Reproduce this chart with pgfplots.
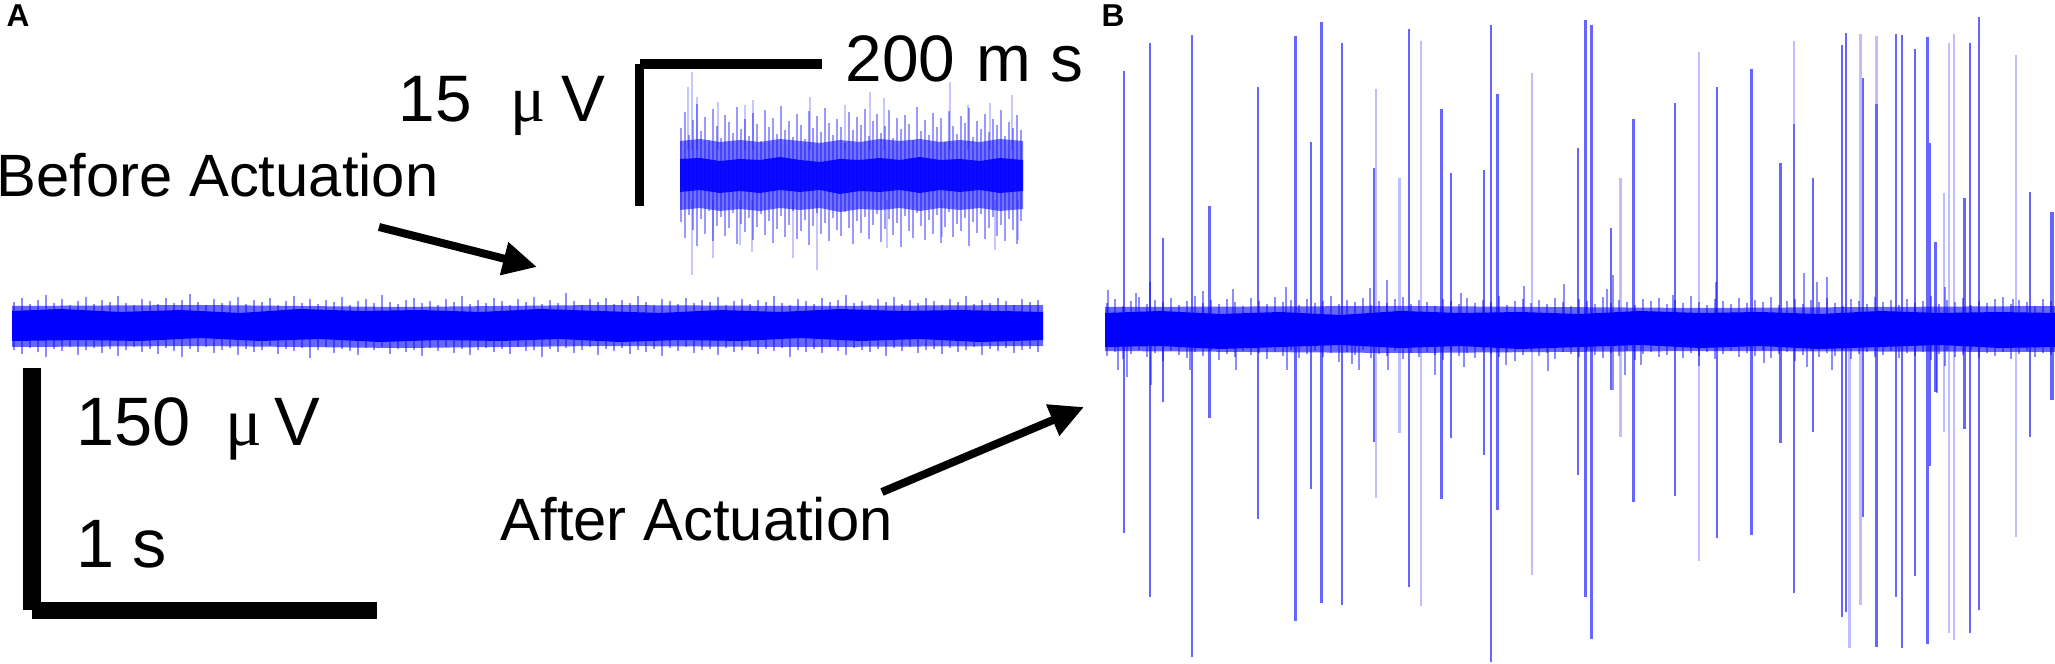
\documentclass[border=0pt]{standalone}
\usepackage{fontspec}
\setmainfont{Liberation Sans}
\newfontfamily\mufont{Liberation Serif}
\usepackage{pgfplots}
\pgfplotsset{compat=1.18}
\usetikzlibrary{arrows.meta}
\definecolor{trace}{RGB}{0,0,255}

% one unit = one pixel of the 2055x664 figure (0.1 mm)
\begin{document}
\begin{tikzpicture}
\begin{axis}[
  scale only axis, width=205.5mm, height=66.4mm,
  xmin=0, xmax=2055, ymin=0, ymax=664, y dir=reverse,
  hide axis, clip=false, unbounded coords=jump,
]
% ---------------- panel A: long trace before actuation
\addplot[draw=none, fill=trace, fill opacity=0.6] coordinates {
(12,306)(200,305)(400,307)(600,305)(800,306)(1043,305)
(1043,346)(800,347)(600,346)(400,348)(200,346)(12,347)};
\addplot[trace, opacity=0.45, line width=0.2mm] coordinates {
(14,302)(14,350)(nan,nan)(22,298)(22,354)(nan,nan)(30,304)(30,348)(nan,nan)(38,300)(38,352)(nan,nan)
(46,295)(46,357)(nan,nan)(54,303)(54,349)(nan,nan)(62,299)(62,351)(nan,nan)(70,305)(70,347)(nan,nan)
(78,301)(78,355)(nan,nan)(86,297)(86,350)(nan,nan)(94,304)(94,348)(nan,nan)(102,300)(102,353)(nan,nan)
(110,302)(110,349)(nan,nan)(118,296)(118,356)(nan,nan)(126,303)(126,350)(nan,nan)(134,305)(134,347)(nan,nan)
(142,299)(142,352)(nan,nan)(150,301)(150,349)(nan,nan)(158,304)(158,354)(nan,nan)(166,298)(166,348)(nan,nan)
(174,303)(174,351)(nan,nan)(182,300)(182,357)(nan,nan)(190,294)(190,349)(nan,nan)(198,302)(198,352)(nan,nan)
(206,305)(206,347)(nan,nan)(214,299)(214,353)(nan,nan)(222,303)(222,350)(nan,nan)(230,301)(230,348)(nan,nan)
(238,297)(238,355)(nan,nan)(246,304)(246,349)(nan,nan)(254,300)(254,352)(nan,nan)(262,302)(262,350)(nan,nan)
(270,298)(270,346)(nan,nan)(278,305)(278,354)(nan,nan)(286,301)(286,349)(nan,nan)(294,296)(294,351)(nan,nan)
(302,303)(302,348)(nan,nan)(310,299)(310,358)(nan,nan)(318,304)(318,350)(nan,nan)(326,300)(326,347)(nan,nan)
(334,302)(334,353)(nan,nan)(342,297)(342,349)(nan,nan)(350,305)(350,351)(nan,nan)(358,301)(358,355)(nan,nan)
(366,299)(366,348)(nan,nan)(374,303)(374,350)(nan,nan)(382,295)(382,347)(nan,nan)(390,302)(390,354)(nan,nan)
(398,304)(398,349)(nan,nan)(406,300)(406,352)(nan,nan)(414,298)(414,350)(nan,nan)(422,303)(422,356)(nan,nan)
(430,301)(430,348)(nan,nan)(438,305)(438,351)(nan,nan)(446,299)(446,347)(nan,nan)(454,302)(454,353)(nan,nan)
(462,296)(462,349)(nan,nan)(470,304)(470,355)(nan,nan)(478,300)(478,350)(nan,nan)(486,303)(486,348)(nan,nan)
(494,298)(494,352)(nan,nan)(502,301)(502,349)(nan,nan)(510,305)(510,354)(nan,nan)(518,299)(518,347)(nan,nan)
(526,302)(526,351)(nan,nan)(534,297)(534,350)(nan,nan)(542,304)(542,357)(nan,nan)(550,300)(550,349)(nan,nan)
(558,303)(558,352)(nan,nan)(566,293)(566,348)(nan,nan)(574,301)(574,353)(nan,nan)(582,305)(582,350)(nan,nan)
(590,299)(590,347)(nan,nan)(598,302)(598,355)(nan,nan)(606,298)(606,349)(nan,nan)(614,304)(614,351)(nan,nan)
(622,300)(622,348)(nan,nan)(630,303)(630,354)(nan,nan)(638,296)(638,350)(nan,nan)(646,302)(646,352)(nan,nan)
(654,305)(654,349)(nan,nan)(662,299)(662,356)(nan,nan)(670,301)(670,348)(nan,nan)(678,304)(678,351)(nan,nan)
(686,298)(686,347)(nan,nan)(694,303)(694,353)(nan,nan)(702,300)(702,350)(nan,nan)(710,302)(710,349)(nan,nan)
(718,297)(718,355)(nan,nan)(726,305)(726,348)(nan,nan)(734,301)(734,352)(nan,nan)(742,299)(742,350)(nan,nan)
(750,304)(750,347)(nan,nan)(758,300)(758,354)(nan,nan)(766,302)(766,349)(nan,nan)(774,296)(774,351)(nan,nan)
(782,303)(782,348)(nan,nan)(790,305)(790,357)(nan,nan)(798,299)(798,350)(nan,nan)(806,301)(806,352)(nan,nan)
(814,304)(814,349)(nan,nan)(822,298)(822,353)(nan,nan)(830,302)(830,347)(nan,nan)(838,300)(838,351)(nan,nan)
(846,295)(846,355)(nan,nan)(854,303)(854,348)(nan,nan)(862,301)(862,350)(nan,nan)(870,305)(870,352)(nan,nan)
(878,299)(878,349)(nan,nan)(886,302)(886,356)(nan,nan)(894,297)(894,348)(nan,nan)(902,304)(902,351)(nan,nan)
(910,300)(910,347)(nan,nan)(918,303)(918,353)(nan,nan)(926,298)(926,350)(nan,nan)(934,301)(934,349)(nan,nan)
(942,305)(942,354)(nan,nan)(950,299)(950,348)(nan,nan)(958,302)(958,352)(nan,nan)(966,296)(966,350)(nan,nan)
(974,304)(974,347)(nan,nan)(982,300)(982,355)(nan,nan)(990,303)(990,349)(nan,nan)(998,298)(998,351)(nan,nan)
(1006,301)(1006,348)(nan,nan)(1014,305)(1014,353)(nan,nan)(1022,299)(1022,350)(nan,nan)(1030,302)(1030,349)(nan,nan)
(1038,300)(1038,352)};
\addplot[draw=none, fill=trace] coordinates {
(12,311)(60,309)(120,312)(180,310)(240,313)(300,309)(360,311)(420,310)(480,312)(540,309)
(600,311)(660,313)(720,310)(780,312)(840,309)(900,311)(960,310)(1043,312)
(1043,340)(980,342)(920,339)(860,341)(800,338)(740,341)(680,340)(620,342)(560,339)(500,341)
(440,340)(380,342)(320,339)(260,341)(200,338)(140,341)(80,340)(12,341)};

% ---------------- panel A: inset (200 ms window)
\addplot[trace, opacity=0.22, line width=0.2mm] coordinates {
(692,150)(692,72)(nan,nan)(688,150)(688,87)(nan,nan)(697,150)(697,97)(nan,nan)
(718,150)(718,102)(nan,nan)(745,150)(745,105)(nan,nan)(753,150)(753,100)(nan,nan)
(810,150)(810,97)(nan,nan)(845,150)(845,105)(nan,nan)(870,150)(870,92)(nan,nan)
(884,150)(884,98)(nan,nan)(950,150)(950,82)(nan,nan)(968,150)(968,105)(nan,nan)
(990,150)(990,103)(nan,nan)(1012,150)(1012,95)(nan,nan)
(692,200)(692,275)(nan,nan)(713,200)(713,258)(nan,nan)(740,200)(740,245)(nan,nan)
(752,200)(752,252)(nan,nan)(793,200)(793,258)(nan,nan)(817,200)(817,270)(nan,nan)
(887,200)(887,248)(nan,nan)(942,200)(942,237)(nan,nan)(995,200)(995,250)(nan,nan)
(1018,200)(1018,240)};
\addplot[trace, opacity=0.4, line width=0.28mm] coordinates {
(681,128)(681,222)(nan,nan)(685,112)(685,238)(nan,nan)(689,135)(689,215)(nan,nan)(693,120)(693,230)(nan,nan)
(697,104)(697,246)(nan,nan)(701,131)(701,219)(nan,nan)(705,117)(705,234)(nan,nan)(709,140)(709,211)(nan,nan)
(713,109)(713,241)(nan,nan)(717,126)(717,226)(nan,nan)(721,138)(721,217)(nan,nan)(725,115)(725,236)(nan,nan)
(729,122)(729,228)(nan,nan)(733,133)(733,213)(nan,nan)(737,107)(737,244)(nan,nan)(741,129)(741,224)(nan,nan)
(745,119)(745,232)(nan,nan)(749,136)(749,218)(nan,nan)(753,113)(753,240)(nan,nan)(757,124)(757,227)(nan,nan)
(761,141)(761,214)(nan,nan)(765,110)(765,235)(nan,nan)(769,127)(769,221)(nan,nan)(773,118)(773,243)(nan,nan)
(777,134)(777,229)(nan,nan)(781,106)(781,216)(nan,nan)(785,130)(785,237)(nan,nan)(789,121)(789,225)(nan,nan)
(793,137)(793,211)(nan,nan)(797,114)(797,239)(nan,nan)(801,125)(801,231)(nan,nan)(805,139)(805,220)(nan,nan)
(809,111)(809,245)(nan,nan)(813,128)(813,226)(nan,nan)(817,116)(817,213)(nan,nan)(821,132)(821,234)(nan,nan)
(825,108)(825,223)(nan,nan)(829,123)(829,241)(nan,nan)(833,135)(833,218)(nan,nan)(837,119)(837,230)(nan,nan)
(841,127)(841,236)(nan,nan)(845,143)(845,212)(nan,nan)(849,112)(849,228)(nan,nan)(853,130)(853,244)(nan,nan)
(857,117)(857,221)(nan,nan)(861,125)(861,233)(nan,nan)(865,109)(865,217)(nan,nan)(869,136)(869,239)(nan,nan)
(873,121)(873,225)(nan,nan)(877,114)(877,214)(nan,nan)(881,133)(881,242)(nan,nan)(885,126)(885,229)(nan,nan)
(889,110)(889,219)(nan,nan)(893,138)(893,235)(nan,nan)(897,118)(897,223)(nan,nan)(901,129)(901,247)(nan,nan)
(905,115)(905,216)(nan,nan)(909,124)(909,231)(nan,nan)(913,140)(913,238)(nan,nan)(917,107)(917,213)(nan,nan)
(921,131)(921,226)(nan,nan)(925,120)(925,240)(nan,nan)(929,135)(929,220)(nan,nan)(933,113)(933,234)(nan,nan)
(937,127)(937,215)(nan,nan)(941,118)(941,243)(nan,nan)(945,142)(945,227)(nan,nan)(949,111)(949,212)(nan,nan)
(953,126)(953,237)(nan,nan)(957,134)(957,224)(nan,nan)(961,116)(961,231)(nan,nan)(965,123)(965,218)(nan,nan)
(969,108)(969,246)(nan,nan)(973,137)(973,222)(nan,nan)(977,121)(977,233)(nan,nan)(981,129)(981,214)(nan,nan)
(985,114)(985,239)(nan,nan)(989,132)(989,228)(nan,nan)(993,119)(993,217)(nan,nan)(997,125)(997,236)(nan,nan)
(1001,110)(1001,225)(nan,nan)(1005,136)(1005,241)(nan,nan)(1009,122)(1009,219)(nan,nan)(1013,128)(1013,230)(nan,nan)
(1017,115)(1017,244)(nan,nan)(1021,130)(1021,221)};
\addplot[draw=none, fill=trace, fill opacity=0.55] coordinates {
(680,141)(700,139)(720,142)(740,140)(760,142)(780,139)(800,141)(820,143)(840,140)(860,142)
(880,139)(900,141)(920,139)(940,142)(960,140)(980,142)(1000,139)(1023,141)
(1023,209)(1000,211)(980,208)(960,210)(940,208)(920,211)(900,208)(880,210)(860,209)(840,212)
(820,208)(800,210)(780,208)(760,211)(740,209)(720,211)(700,208)(680,210)};
\addplot[draw=none, fill=trace, fill opacity=0.9] coordinates {
(680,159)(700,158)(720,161)(740,159)(760,160)(780,157)(800,160)(820,162)(840,159)(860,160)
(880,158)(900,160)(920,157)(940,160)(960,159)(980,161)(1000,158)(1023,160)
(1023,191)(1000,193)(980,190)(960,192)(940,190)(920,193)(900,190)(880,192)(860,191)(840,194)
(820,190)(800,192)(780,190)(760,193)(740,191)(720,193)(700,190)(680,192)};

% ---------------- panel B: trace after actuation
% large spikes (x, top), (x, bottom)
\addplot[trace, opacity=0.6, line width=0.22mm] coordinates {
(1123.8,70.7)(1123.8,533.3)(nan,nan)(1149.7,42.7)(1149.7,596.7)(nan,nan)
(1163.2,237.7)(1163.2,401.7)(nan,nan)(1192.2,35.3)(1192.2,657.3)(nan,nan)
(1209.4,205.7)(1209.4,418.3)(nan,nan)(1258.0,87.3)(1258.0,519.3)(nan,nan)
(1295.5,36.0)(1295.5,621.0)(nan,nan)(1310.9,142.3)(1310.9,489.3)(nan,nan)
(1321.4,22.3)(1321.4,602.7)(nan,nan)(1341.7,42.7)(1341.7,605.0)(nan,nan)
(1374.3,167.7)(1374.3,441.7)(nan,nan)(1408.8,29.3)(1408.8,586.7)(nan,nan)
(1441.4,109.3)(1441.4,499.0)(nan,nan)(1451.2,173.0)(1451.2,438.3)(nan,nan)
(1483.8,170.0)(1483.8,455.0)(nan,nan)(1490.6,24.7)(1490.6,661.7)(nan,nan)
(1497.4,94.0)(1497.4,510.0)(nan,nan)(1578.0,147.7)(1578.0,475.3)(nan,nan)
(1585.4,20.0)(1585.4,597.3)(nan,nan)(1591.5,24.7)(1591.5,639.3)(nan,nan)
(1611.2,227.7)(1611.2,390.0)(nan,nan)(1633.4,118.7)(1633.4,501.7)(nan,nan)
(1675.2,102.7)(1675.2,496.0)(nan,nan)(1717.1,87.3)(1717.1,537.7)(nan,nan)
(1751.5,69.0)(1751.5,535.3)(nan,nan)(1780.5,163.0)(1780.5,443.3)(nan,nan)
(1794.0,124.0)(1794.0,592.7)(nan,nan)(1813.1,177.7)(1813.1,431.7)(nan,nan)
(1842.0,45.3)(1842.0,616.7)(nan,nan)(1846.3,33.3)(1846.3,612.3)(nan,nan)
(1862.9,78.0)(1862.9,517.3)(nan,nan)(1876.5,104.0)(1876.5,646.7)(nan,nan)
(1896.2,34.0)(1896.2,597.3)(nan,nan)(1902.3,35.3)(1902.3,648.3)(nan,nan)
(1914.6,48.7)(1914.6,576.0)(nan,nan)(1927.5,36.7)(1927.5,644.0)(nan,nan)
(1930.0,142.7)(1930.0,466.0)(nan,nan)(1935.5,242.3)(1935.5,391.7)(nan,nan)
(1964.5,198.3)(1964.5,428.7)(nan,nan)(1970.0,42.7)(1970.0,633.3)(nan,nan)
(1979.2,17.3)(1979.2,610.0)(nan,nan)(2030.3,191.7)(2030.3,436.7)};
\addplot[trace, opacity=0.6, line width=0.45mm] coordinates {(2052,212)(2052,400)};
% faint spikes
\addplot[trace, opacity=0.25, line width=0.22mm] coordinates {
(1376.2,89.3)(1376.2,498.3)(nan,nan)(1399.5,177.7)(1399.5,433.3)(nan,nan)
(1421.1,41.0)(1421.1,605.7)(nan,nan)(1531.8,73.3)(1531.8,575.0)(nan,nan)
(1620.5,177.7)(1620.5,436.7)(nan,nan)(1699.2,52.0)(1699.2,561.3)(nan,nan)
(1794.0,40.7)(1794.0,124.0)(nan,nan)(1849.4,330)(1849.4,648.3)(nan,nan)
(1860.5,34.3)(1860.5,605.0)(nan,nan)(1876.5,36.0)(1876.5,104.0)(nan,nan)
(1944.2,193.3)(1944.2,431.7)(nan,nan)(1949.1,42.7)(1949.1,632.7)(nan,nan)
(1954.0,34.0)(1954.0,640.0)(nan,nan)(2016.2,55.0)(2016.2,536.7)};
% short spikes at the edge of the band
\addplot[trace, opacity=0.45, line width=0.22mm] coordinates {
(1108,290)(1108,330)(nan,nan)(1136,293)(1136,330)(nan,nan)(1150,282)(1150,330)(nan,nan)
(1203,291)(1203,330)(nan,nan)(1233,289)(1233,330)(nan,nan)(1286,287)(1286,330)(nan,nan)
(1370,288)(1370,330)(nan,nan)(1387,280)(1387,330)(nan,nan)(1461,293)(1461,330)(nan,nan)
(1524,286)(1524,330)(nan,nan)(1564,284)(1564,330)(nan,nan)(1607,289)(1607,330)(nan,nan)
(1613,275)(1613,330)(nan,nan)(1673,295)(1673,330)(nan,nan)(1716,282)(1716,330)(nan,nan)
(1804,273)(1804,330)(nan,nan)(1817,282)(1817,330)(nan,nan)(1827,277)(1827,330)(nan,nan)
(1945,287)(1945,330)(nan,nan)(2013,299)(2013,330)(nan,nan)
(1118,370)(1118,330)(nan,nan)(1127,377)(1127,330)(nan,nan)(1151,385)(1151,330)(nan,nan)
(1190,370)(1190,330)(nan,nan)(1236,370)(1236,330)(nan,nan)(1287,370)(1287,330)(nan,nan)
(1352,364)(1352,330)(nan,nan)(1359,370)(1359,330)(nan,nan)(1388,370)(1388,330)(nan,nan)
(1435,375)(1435,330)(nan,nan)(1464,367)(1464,330)(nan,nan)(1506,365)(1506,330)(nan,nan)
(1548,371)(1548,330)(nan,nan)(1613,390)(1613,330)(nan,nan)(1625,375)(1625,330)(nan,nan)
(1641,365)(1641,330)(nan,nan)(1699,366)(1699,330)(nan,nan)(1764,363)(1764,330)(nan,nan)
(1807,367)(1807,330)(nan,nan)(1832,370)(1832,330)(nan,nan)(1937,393)(1937,330)(nan,nan)
(1945,366)(1945,330)};
% noise band
\addplot[draw=none, fill=trace, fill opacity=0.6] coordinates {
(1105,307)(1400,306)(1700,308)(2055,306)(2055,352)(1700,351)(1400,353)(1105,351)};
\addplot[trace, opacity=0.45, line width=0.2mm] coordinates {
(1107,303)(1107,356)(nan,nan)(1115,299)(1115,352)(nan,nan)(1123,306)(1123,359)(nan,nan)(1131,301)(1131,354)(nan,nan)
(1139,297)(1139,350)(nan,nan)(1147,304)(1147,357)(nan,nan)(1155,300)(1155,353)(nan,nan)(1163,302)(1163,361)(nan,nan)
(1171,298)(1171,351)(nan,nan)(1179,305)(1179,355)(nan,nan)(1187,301)(1187,358)(nan,nan)(1195,296)(1195,352)(nan,nan)
(1203,303)(1203,356)(nan,nan)(1211,300)(1211,350)(nan,nan)(1219,304)(1219,360)(nan,nan)(1227,299)(1227,354)(nan,nan)
(1235,302)(1235,357)(nan,nan)(1243,306)(1243,351)(nan,nan)(1251,298)(1251,355)(nan,nan)(1259,301)(1259,353)(nan,nan)
(1267,304)(1267,359)(nan,nan)(1275,297)(1275,352)(nan,nan)(1283,302)(1283,356)(nan,nan)(1291,300)(1291,350)(nan,nan)
(1299,305)(1299,358)(nan,nan)(1307,299)(1307,354)(nan,nan)(1315,303)(1315,351)(nan,nan)(1323,301)(1323,357)(nan,nan)
(1331,296)(1331,353)(nan,nan)(1339,304)(1339,362)(nan,nan)(1347,300)(1347,352)(nan,nan)(1355,302)(1355,355)(nan,nan)
(1363,298)(1363,350)(nan,nan)(1371,305)(1371,358)(nan,nan)(1379,301)(1379,354)(nan,nan)(1387,303)(1387,356)(nan,nan)
(1395,299)(1395,351)(nan,nan)(1403,297)(1403,359)(nan,nan)(1411,304)(1411,353)(nan,nan)(1419,300)(1419,357)(nan,nan)
(1427,302)(1427,352)(nan,nan)(1435,306)(1435,355)(nan,nan)(1443,299)(1443,360)(nan,nan)(1451,301)(1451,351)(nan,nan)
(1459,304)(1459,356)(nan,nan)(1467,298)(1467,353)(nan,nan)(1475,303)(1475,358)(nan,nan)(1483,300)(1483,350)(nan,nan)
(1491,302)(1491,354)(nan,nan)(1499,296)(1499,357)(nan,nan)(1507,305)(1507,352)(nan,nan)(1515,301)(1515,361)(nan,nan)
(1523,299)(1523,355)(nan,nan)(1531,303)(1531,351)(nan,nan)(1539,300)(1539,356)(nan,nan)(1547,304)(1547,353)(nan,nan)
(1555,298)(1555,359)(nan,nan)(1563,302)(1563,352)(nan,nan)(1571,306)(1571,354)(nan,nan)(1579,299)(1579,357)(nan,nan)
(1587,301)(1587,350)(nan,nan)(1595,304)(1595,355)(nan,nan)(1603,297)(1603,358)(nan,nan)(1611,303)(1611,353)(nan,nan)
(1619,300)(1619,356)(nan,nan)(1627,302)(1627,351)(nan,nan)(1635,305)(1635,360)(nan,nan)(1643,299)(1643,354)(nan,nan)
(1651,301)(1651,352)(nan,nan)(1659,298)(1659,357)(nan,nan)(1667,304)(1667,355)(nan,nan)(1675,300)(1675,350)(nan,nan)
(1683,303)(1683,358)(nan,nan)(1691,296)(1691,353)(nan,nan)(1699,302)(1699,356)(nan,nan)(1707,305)(1707,352)(nan,nan)
(1715,299)(1715,359)(nan,nan)(1723,301)(1723,354)(nan,nan)(1731,304)(1731,351)(nan,nan)(1739,298)(1739,357)(nan,nan)
(1747,303)(1747,353)(nan,nan)(1755,300)(1755,356)(nan,nan)(1763,302)(1763,350)(nan,nan)(1771,297)(1771,358)(nan,nan)
(1779,305)(1779,354)(nan,nan)(1787,301)(1787,352)(nan,nan)(1795,299)(1795,361)(nan,nan)(1803,304)(1803,355)(nan,nan)
(1811,300)(1811,351)(nan,nan)(1819,302)(1819,357)(nan,nan)(1827,298)(1827,353)(nan,nan)(1835,303)(1835,356)(nan,nan)
(1843,306)(1843,350)(nan,nan)(1851,299)(1851,359)(nan,nan)(1859,301)(1859,354)(nan,nan)(1867,304)(1867,352)(nan,nan)
(1875,297)(1875,357)(nan,nan)(1883,302)(1883,355)(nan,nan)(1891,300)(1891,351)(nan,nan)(1899,305)(1899,358)(nan,nan)
(1907,299)(1907,353)(nan,nan)(1915,303)(1915,356)(nan,nan)(1923,301)(1923,352)(nan,nan)(1931,296)(1931,360)(nan,nan)
(1939,304)(1939,354)(nan,nan)(1947,300)(1947,351)(nan,nan)(1955,302)(1955,357)(nan,nan)(1963,298)(1963,355)(nan,nan)
(1971,305)(1971,350)(nan,nan)(1979,301)(1979,358)(nan,nan)(1987,303)(1987,353)(nan,nan)(1995,299)(1995,356)(nan,nan)
(2003,297)(2003,352)(nan,nan)(2011,304)(2011,359)(nan,nan)(2019,300)(2019,354)(nan,nan)(2027,302)(2027,351)(nan,nan)
(2035,306)(2035,357)(nan,nan)(2043,299)(2043,353)(nan,nan)(2051,301)(2051,355)};
\addplot[draw=none, fill=trace] coordinates {
(1105,313)(1160,311)(1220,314)(1280,312)(1340,315)(1400,311)(1460,313)(1520,312)(1580,314)
(1640,311)(1700,313)(1760,312)(1820,314)(1880,311)(1940,313)(2000,312)(2055,313)
(2055,347)(2000,348)(1940,345)(1880,347)(1820,349)(1760,346)(1700,348)(1640,345)(1580,347)
(1520,349)(1460,346)(1400,348)(1340,345)(1280,347)(1220,349)(1160,346)(1105,347)};

% ---------------- scale bars, labels, arrows
\fill (axis cs:23,368) rectangle (axis cs:41,610);
\fill (axis cs:32,602) rectangle (axis cs:377,619);
\fill (axis cs:640,59) rectangle (axis cs:822,69);
\fill (axis cs:635,64) rectangle (axis cs:644,206);

\node[anchor=base west, inner sep=0, font=\bfseries\fontsize{9}{11}\selectfont] at (axis cs:6,27) {A};
\node[anchor=base west, inner sep=0, font=\bfseries\fontsize{9}{11}\selectfont] at (axis cs:1101,27) {B};

\node[anchor=base west, inner sep=0, font=\fontsize{17}{20}\selectfont] at (axis cs:-4,197) {Before Actuation};
\node[anchor=base west, inner sep=0, font=\fontsize{17}{20}\selectfont] at (axis cs:500,540) {After Actuation};

\node[anchor=base west, inner sep=0, font=\fontsize{18.7}{22}\selectfont] at (axis cs:398,122) {15};
\node[anchor=base west, inner sep=0, font=\mufont\fontsize{18.7}{22}\selectfont] at (axis cs:510,122) {μ};
\node[anchor=base west, inner sep=0, font=\fontsize{18.7}{22}\selectfont] at (axis cs:561,122) {V};
\node[anchor=base west, inner sep=0, font=\fontsize{18.7}{22}\selectfont] at (axis cs:845,82) {200};
\node[anchor=base west, inner sep=0, font=\fontsize{18.7}{22}\selectfont] at (axis cs:976,82) {m};
\node[anchor=base west, inner sep=0, font=\fontsize{18.7}{22}\selectfont] at (axis cs:1050,82) {s};

\node[anchor=base west, inner sep=0, font=\fontsize{19.5}{23}\selectfont] at (axis cs:76,446) {150};
\node[anchor=base west, inner sep=0, font=\mufont\fontsize{19.5}{23}\selectfont] at (axis cs:225,446) {μ};
\node[anchor=base west, inner sep=0, font=\fontsize{19.5}{23}\selectfont] at (axis cs:274,446) {V};
\node[anchor=base west, inner sep=0, font=\fontsize{19.5}{23}\selectfont] at (axis cs:76,567) {1};
\node[anchor=base west, inner sep=0, font=\fontsize{19.5}{23}\selectfont] at (axis cs:132,567) {s};

\draw[line width=0.8mm, -{Triangle[length=3.4mm,width=3.2mm]}] (axis cs:379,227) -- (axis cs:537,267);
\draw[line width=0.8mm, -{Triangle[length=3.4mm,width=3.2mm]}] (axis cs:882,492) -- (axis cs:1084,407);
\end{axis}
\pgfresetboundingbox
\path[use as bounding box] (current axis.south west) rectangle (current axis.north east);
\end{tikzpicture}
\end{document}
